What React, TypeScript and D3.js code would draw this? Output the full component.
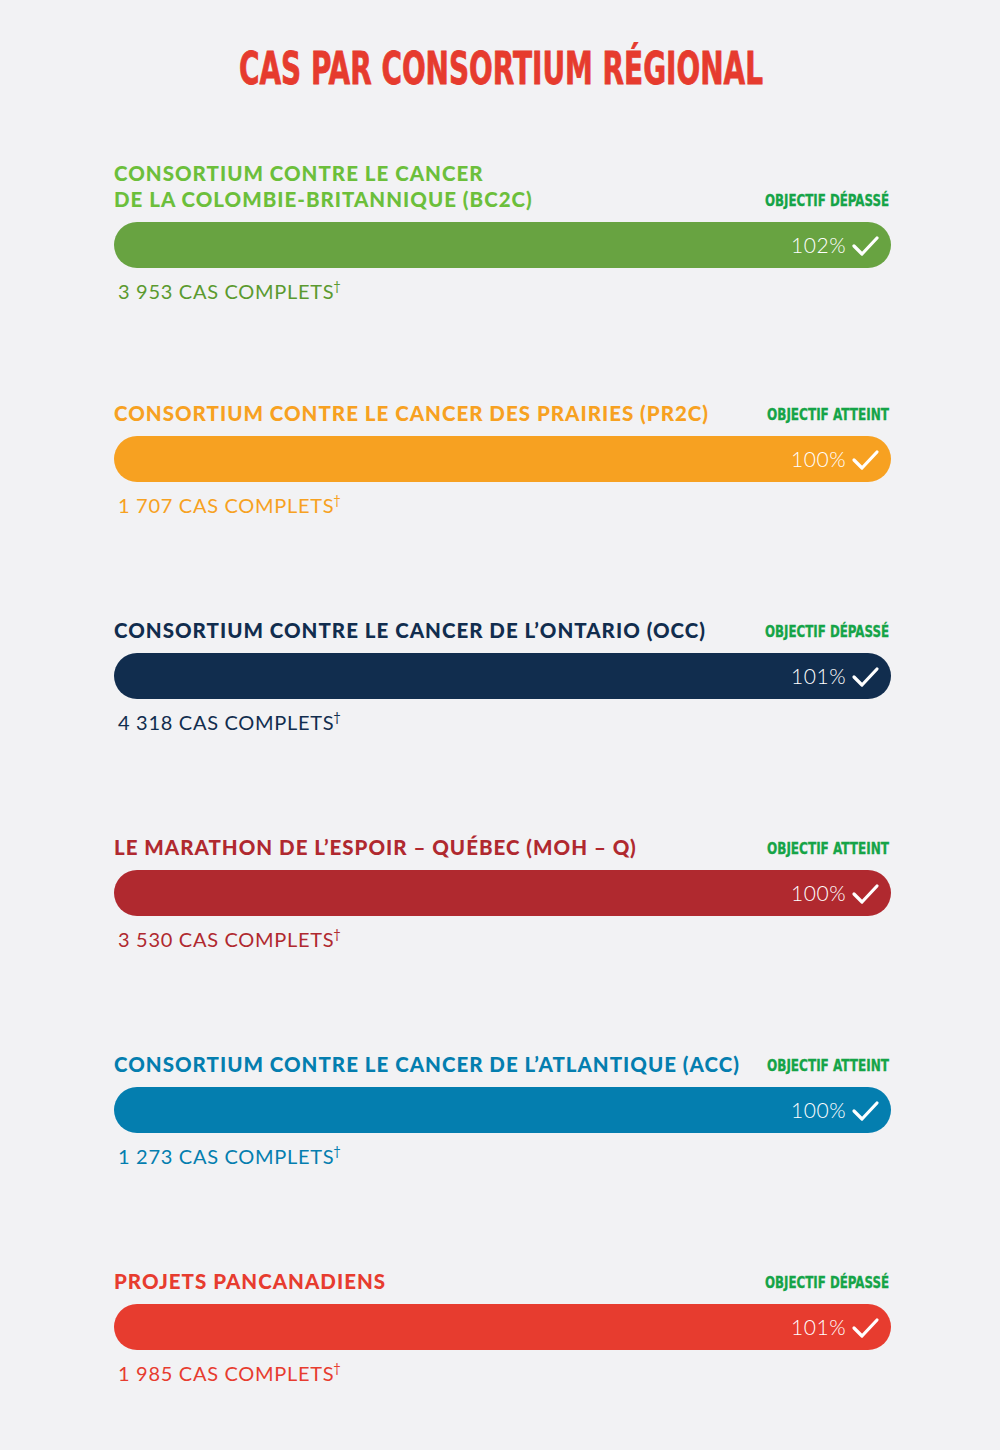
import React from "react";
import * as d3 from "d3";

const titleText = "CAS PAR CONSORTIUM RÉGIONAL";
const labelLines: string[][] = [
  ["CONSORTIUM CONTRE LE CANCER", "DE LA COLOMBIE-BRITANNIQUE (BC2C)"],
  ["CONSORTIUM CONTRE LE CANCER DES PRAIRIES (PR2C)"],
  ["CONSORTIUM CONTRE LE CANCER DE L’ONTARIO (OCC)"],
  ["LE MARATHON DE L’ESPOIR – QUÉBEC (MOH – Q)"],
  ["CONSORTIUM CONTRE LE CANCER DE L’ATLANTIQUE (ACC)"],
  ["PROJETS PANCANADIENS"],
];
const percents = [102, 100, 101, 100, 100, 101];
const casesCount = ["3 953", "1 707", "4 318", "3 530", "1 273", "1 985"];
const statuses = [
  "OBJECTIF DÉPASSÉ",
  "OBJECTIF ATTEINT",
  "OBJECTIF DÉPASSÉ",
  "OBJECTIF ATTEINT",
  "OBJECTIF ATTEINT",
  "OBJECTIF DÉPASSÉ",
];
const barColors = ["#68a341", "#f7a121", "#112d4e", "#b0292f", "#047eaf", "#e73c2f"];
const labelColors = ["#6cbf3b", "#f7a121", "#112d4e", "#b0292f", "#047eaf", "#e73c2f"];
const casesColors = ["#5b9a2f", "#f7a121", "#112d4e", "#b0292f", "#047eaf", "#e73c2f"];

const W = 1000;
const H = 1450;
const barH = 46;

export default function App() {
  const x = d3.scaleLinear().domain([0, 100]).range([114, 891]);
  const y = d3
    .scaleLinear()
    .domain([0, 1, labelLines.length - 1])
    .range([222, 436, 1304]);
  const labelFont = "Lato, 'Open Sans', sans-serif";
  const condFont = "'DejaVu Sans Condensed', 'DejaVu Sans', sans-serif";
  return (
    <svg
      width={W}
      height={H}
      style={{ position: "absolute", left: 0, top: 0, background: "#f2f2f4" }}
    >
      <rect x={0} y={0} width={W} height={H} fill="#f2f2f4" />
      <text
        x={239}
        y={84}
        fill="#e63b2e"
        fontFamily={condFont}
        fontWeight={700}
        fontSize={44}
        textLength={524}
        lengthAdjust="spacingAndGlyphs"
        stroke="#e63b2e"
        strokeWidth={0.8}
      >
        {titleText}
      </text>
      {labelLines.map((lines, i) => {
        const top = y(i);
        const x0 = x(0);
        const x1 = x(Math.min(percents[i], 100));
        const cy = top + barH / 2;
        const n = lines.length;
        return (
          <g key={i}>
            {lines.map((ln, j) => (
              <text
                key={j}
                x={114}
                y={top - 15 - (n - 1 - j) * 26}
                fill={labelColors[i]}
                fontFamily={labelFont}
                fontWeight={900}
                fontSize={20.5}
                letterSpacing={1}
              >
                {ln}
              </text>
            ))}
            <text
              x={889}
              y={top - 16}
              textAnchor="end"
              fill="#15a447"
              fontFamily={condFont}
              fontWeight={700}
              fontSize={15}
              textLength={statuses[i] === "OBJECTIF DÉPASSÉ" ? 124 : 122}
              lengthAdjust="spacingAndGlyphs"
              stroke="#15a447"
              strokeWidth={0.3}
            >
              {statuses[i]}
            </text>
            <rect
              x={x0}
              y={top}
              width={x1 - x0}
              height={barH}
              rx={barH / 2}
              ry={barH / 2}
              fill={barColors[i]}
            />
            <text
              x={846}
              y={cy + 8}
              textAnchor="end"
              fill="#ffffff"
              fontFamily={labelFont}
              fontWeight={300}
              fontSize={21}
              letterSpacing={0.5}
            >
              {percents[i]}%
            </text>
            <path
              d={`M${854},${cy + 1} L${862},${cy + 9} L${877},${cy - 7}`}
              fill="none"
              stroke="#ffffff"
              strokeWidth={3.2}
              strokeLinecap="round"
              strokeLinejoin="round"
            />
            <text
              x={118}
              y={top + barH + 31}
              fill={casesColors[i]}
              fontFamily={labelFont}
              fontWeight={400}
              fontSize={20}
              letterSpacing={0.7}
            >
              {casesCount[i]} CAS COMPLETS
              <tspan fontSize={13} dy={-8} dx={-1}>
                †
              </tspan>
            </text>
          </g>
        );
      })}
    </svg>
  );
}
